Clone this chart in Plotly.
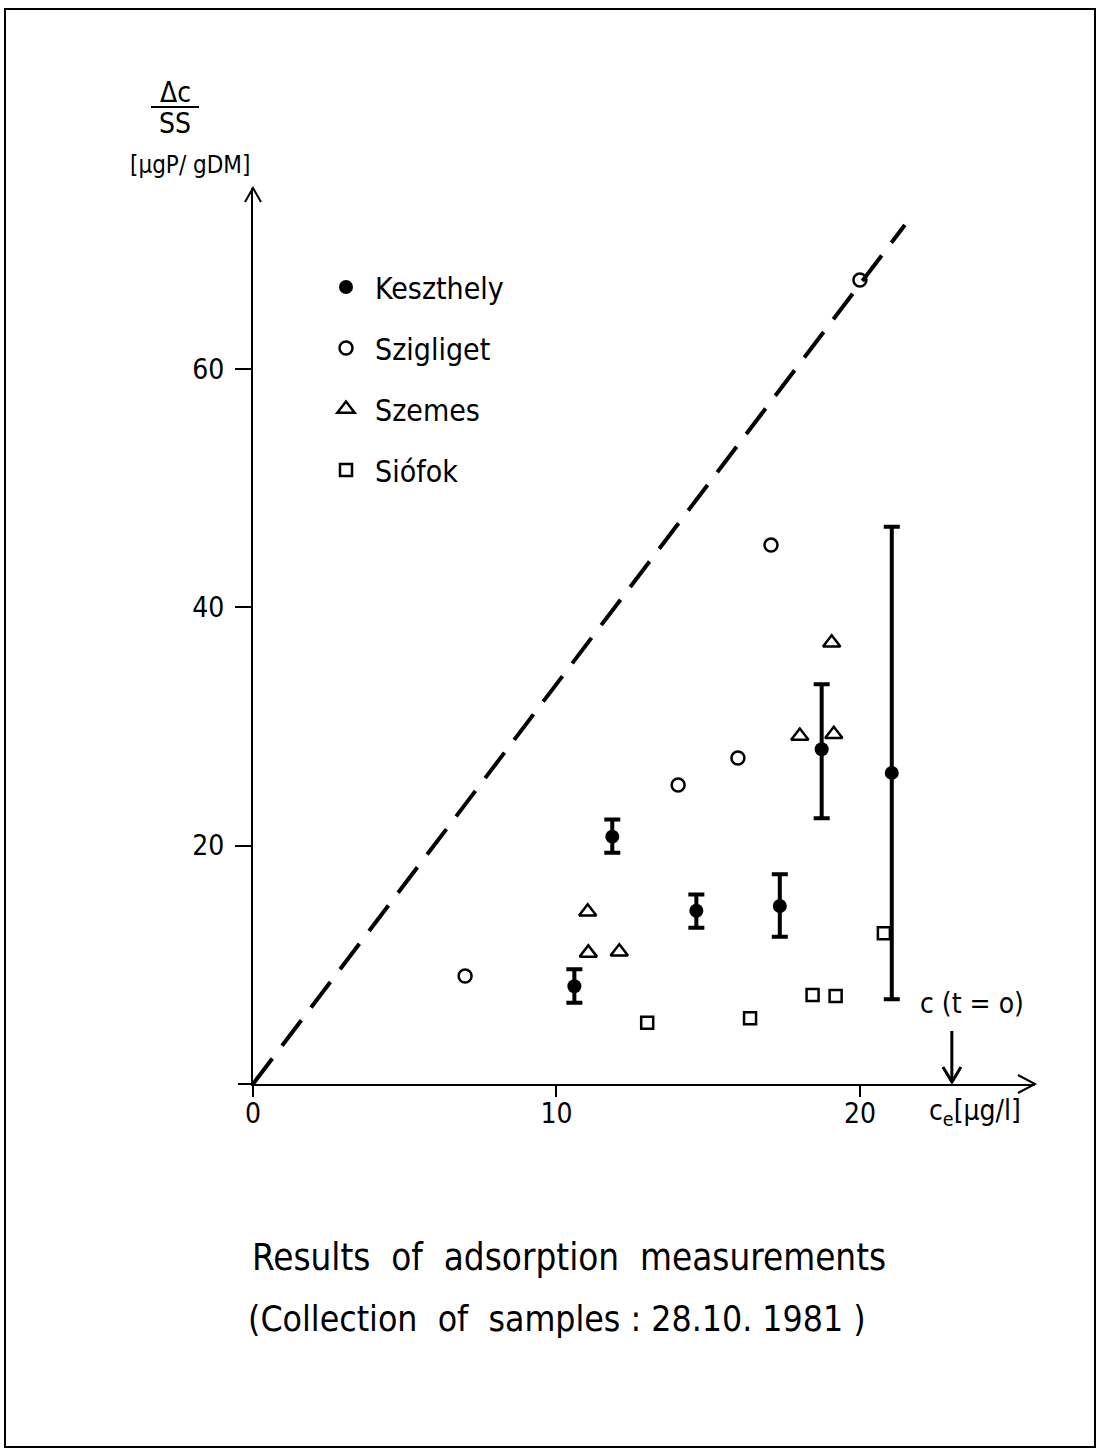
import plotly.graph_objects as go

W, H = 1101, 1450
FONT = "Liberation Sans Narrow, DejaVu Sans Condensed, Liberation Sans, sans-serif"


def px(x):
    return x / W


def py(y):
    return 1 - y / H


# ---------------- data ----------------
kesz_x = [10.59, 11.84, 14.61, 17.36, 18.74, 21.05]
kesz_y = [8.2, 20.75, 14.54, 14.93, 28.08, 26.1]
kesz_hi = [9.62, 22.2, 15.9, 17.6, 33.53, 46.75]
kesz_lo = [6.82, 19.4, 13.1, 12.36, 22.3, 7.1]

szig_x = [6.99, 14.01, 15.98, 17.07, 20.0]
szig_y = [9.06, 25.08, 27.35, 45.22, 67.45]

szem_x = [11.03, 11.05, 12.07, 18.02, 19.07, 19.14]
szem_y = [14.45, 11.0, 11.1, 29.19, 37.02, 29.34]

sio_x = [12.99, 16.38, 18.44, 19.2, 20.79]
sio_y = [5.14, 5.51, 7.47, 7.38, 12.64]

line_x = [0, 21.48]
line_y = [0, 72.06]

c0_x = 23.03

x_ticks = [0, 10, 20]
y_ticks = [20, 40, 60]

# ---------------- figure ----------------
fig = go.Figure()

fig.add_trace(go.Scatter(
    x=line_x, y=line_y, mode="lines", showlegend=False,
    line=dict(color="black", width=4, dash="32px,16px"), hoverinfo="skip"))

err_plus = [h - v for h, v in zip(kesz_hi, kesz_y)]
err_minus = [v - l for v, l in zip(kesz_y, kesz_lo)]

fig.add_trace(go.Scatter(
    x=kesz_x, y=kesz_y, mode="markers", name="Keszthely", legendgroup="a",
    marker=dict(symbol="circle", size=14, color="black"),
    error_y=dict(type="data", symmetric=False, array=err_plus, arrayminus=err_minus,
                 color="black", thickness=4, width=8)))

fig.add_trace(go.Scatter(
    x=szig_x, y=szig_y, mode="markers", name="Szigliget", legendgroup="b",
    marker=dict(symbol="circle-open", size=13, color="black", line=dict(width=2.5))))

fig.add_trace(go.Scatter(
    x=szem_x, y=szem_y, mode="markers", name="Szemes", legendgroup="c",
    marker=dict(symbol="triangle-up-open", size=15, color="black", line=dict(width=2.5))))

fig.add_trace(go.Scatter(
    x=sio_x, y=sio_y, mode="markers", name="Siófok", legendgroup="d",
    marker=dict(symbol="square-open", size=12, color="black", line=dict(width=2.5))))

shapes = []
# page frame
shapes.append(dict(type="rect", xref="paper", yref="paper",
                   x0=px(5), x1=px(1095), y0=py(1447), y1=py(9),
                   line=dict(color="black", width=2)))
# small extension of x axis left of origin
shapes.append(dict(type="line", xref="paper", yref="paper",
                   x0=px(238), x1=px(253), y0=py(1084), y1=py(1084),
                   line=dict(color="black", width=2)))
# y-axis arrow head
shapes.append(dict(type="path", xref="paper", yref="paper",
                   path=f"M {px(245)} {py(202)} L {px(253)} {py(188)} L {px(261)} {py(202)}",
                   line=dict(color="black", width=2)))
# x-axis arrow head
shapes.append(dict(type="path", xref="paper", yref="paper",
                   path=f"M {px(1018)} {py(1075)} L {px(1035)} {py(1084)} L {px(1018)} {py(1093)}",
                   line=dict(color="black", width=2)))
# fraction bar of y title
shapes.append(dict(type="line", xref="paper", yref="paper",
                   x0=px(151), x1=px(199), y0=py(107), y1=py(107),
                   line=dict(color="black", width=2)))
# c(t=0) arrow (data-referenced x)
shapes.append(dict(type="line", xref="x", yref="paper",
                   x0=c0_x, x1=c0_x, y0=py(1031), y1=py(1082),
                   line=dict(color="black", width=3)))
shapes.append(dict(type="path", xref="paper", yref="paper",
                   path=(f"M {px(253 + c0_x * 30.35 - 9)} {py(1067)} "
                         f"L {px(253 + c0_x * 30.35)} {py(1082)} "
                         f"L {px(253 + c0_x * 30.35 + 9)} {py(1067)}"),
                   line=dict(color="black", width=3)))

ann = []


def text(x, y, s, size, xanchor="center"):
    ann.append(dict(x=px(x), y=py(y), xref="paper", yref="paper", text=s,
                    showarrow=False, xanchor=xanchor, yanchor="middle",
                    font=dict(family=FONT, size=size, color="black")))


text(175, 93, "Δc", 28)
text(175, 123, "SS", 28)
text(190, 165, "[μgP/ gDM]", 24)
text(975, 1112, "c<sub>e</sub>[μg/l]", 28)
text(972, 1003, "c (t = o)", 28)
text(569, 1257, "Results  of  adsorption  measurements", 36.5)
text(557, 1318, "(Collection  of  samples : 28.10. 1981 )", 35.3)

fig.update_layout(
    width=W, height=H,
    margin=dict(l=0, r=0, t=0, b=0),
    paper_bgcolor="white", plot_bgcolor="white",
    shapes=shapes, annotations=ann,
    font=dict(family=FONT, size=26, color="black"),
    legend=dict(x=px(317), y=py(261), xanchor="left", yanchor="top",
                bgcolor="rgba(0,0,0,0)", tracegroupgap=19, itemwidth=48,
                font=dict(family=FONT, size=30, color="black")),
    xaxis=dict(domain=[px(253), px(1035)], range=[0, 25.77], automargin=False,
               showgrid=False, zeroline=False, showline=True, linecolor="black", linewidth=2,
               tickvals=x_ticks, ticktext=[str(v) for v in x_ticks],
               ticks="outside", ticklen=11, tickwidth=2, tickcolor="black",
               ticklabelstandoff=-8,
               tickfont=dict(family=FONT, size=28, color="black")),
    yaxis=dict(domain=[py(1084), py(188)], range=[0, 75.17], automargin=False,
               showgrid=False, zeroline=False, showline=True, linecolor="black", linewidth=2,
               tickvals=y_ticks, ticktext=[str(v) for v in y_ticks],
               ticks="outside", ticklen=16, tickwidth=2, tickcolor="black",
               ticklabelstandoff=5,
               tickfont=dict(family=FONT, size=28, color="black")),
)

fig.write_html("out.html")
